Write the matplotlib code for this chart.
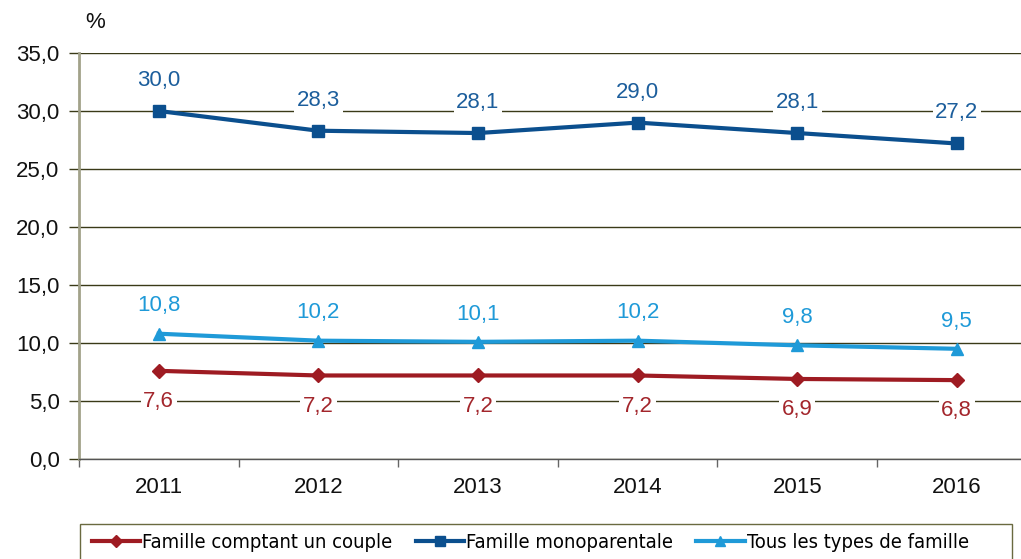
import matplotlib
matplotlib.use("Agg")
import matplotlib.pyplot as plt
from matplotlib.font_manager import FontProperties
from matplotlib.patches import Rectangle

years = ["2011", "2012", "2013", "2014", "2015", "2016"]
couple = [7.6, 7.2, 7.2, 7.2, 6.9, 6.8]
mono = [30.0, 28.3, 28.1, 29.0, 28.1, 27.2]
tous = [10.8, 10.2, 10.1, 10.2, 9.8, 9.5]
yticks = [0, 5, 10, 15, 20, 25, 30, 35]

plt.rcParams['font.family'] = ['Liberation Sans', 'DejaVu Sans']

c_red = '#9e1b22'
c_dblue = '#0b4f8e'
c_lblue = '#1f9ad8'
lab_red = '#a3262c'
lab_dblue = '#1c5e9c'
lab_lblue = '#1f9ad8'
grid_c = '#3a3a18'
FS = 16

fig = plt.figure(figsize=(10.21, 5.59), dpi=100)
W, H = 1021, 559
ax = fig.add_axes([79 / W, 1 - 459 / H, 957.6 / W, (459 - 53) / H])

x = list(range(len(years)))
ax.plot(x, couple, color=c_red, lw=3, marker='D', ms=7, zorder=5, label='Famille comptant un couple')
ax.plot(x, mono, color=c_dblue, lw=3, marker='s', ms=9, zorder=5, label='Famille monoparentale')
ax.plot(x, tous, color=c_lblue, lw=3, marker='^', ms=9, zorder=5, label='Tous les types de famille')

def fmt(v):
    return f"{v:.1f}".replace('.', ',')

bb = dict(facecolor='white', edgecolor='none', pad=2)
for xi, v in zip(x, mono):
    ax.annotate(fmt(v), (xi, v), xytext=(0, 22), textcoords='offset points', ha='center', va='center',
                fontsize=FS, color=lab_dblue, bbox=bb, zorder=4)
for xi, v in zip(x, tous):
    ax.annotate(fmt(v), (xi, v), xytext=(0, 20), textcoords='offset points', ha='center', va='center',
                fontsize=FS, color=lab_lblue, bbox=bb, zorder=4)
for xi, v in zip(x, couple):
    ax.annotate(fmt(v), (xi, v), xytext=(0, -22), textcoords='offset points', ha='center', va='center',
                fontsize=FS, color=lab_red, bbox=bb, zorder=4)

ax.set_xlim(-0.5, 5.5)
ax.set_ylim(0, 35)
ax.set_yticks(yticks)
ax.set_yticklabels([fmt(v) for v in yticks], fontsize=FS, color='#111111')
ax.set_xticks(x)
ax.set_xticklabels(years, fontsize=FS, color='#111111')
ax.set_xticks([i + 0.5 for i in range(-1, 6)], minor=True)
ax.tick_params(axis='x', which='major', length=0, pad=13)
ax.tick_params(axis='x', which='minor', length=6, width=1, color='#666666', direction='out')
ax.tick_params(axis='y', which='major', length=7, width=1, color=grid_c, direction='out', pad=7)

ax.yaxis.grid(True, color=grid_c, lw=1)
ax.set_axisbelow(True)
for s in ['top', 'right']:
    ax.spines[s].set_visible(False)
ax.spines['left'].set_color('#a2a28a')
ax.spines['left'].set_linewidth(2)
ax.spines['bottom'].set_color('#555555')
ax.spines['bottom'].set_linewidth(1)

fig.text(95 / W, 1 - 22 / H, '%', fontsize=FS, ha='center', va='center', color='#111111')

# legend frame
fig.patches.append(Rectangle((80 / W, -0.05), 932 / W, 0.05 + 1 - 524 / H, transform=fig.transFigure,
                             facecolor='white', edgecolor='#6a6a40', lw=1, zorder=0))

lp = FontProperties(family='DejaVu Sans', stretch='condensed', size=14.5)
leg = fig.legend(loc='center left', bbox_to_anchor=(92 / W, 1 - 543 / H),
                 ncol=3, frameon=False, prop=lp, borderaxespad=0, borderpad=0,
                 handlelength=2.4, handletextpad=0.1, columnspacing=1.15,
                 markerscale=0.85)

fig.savefig('out.png', dpi=100)
